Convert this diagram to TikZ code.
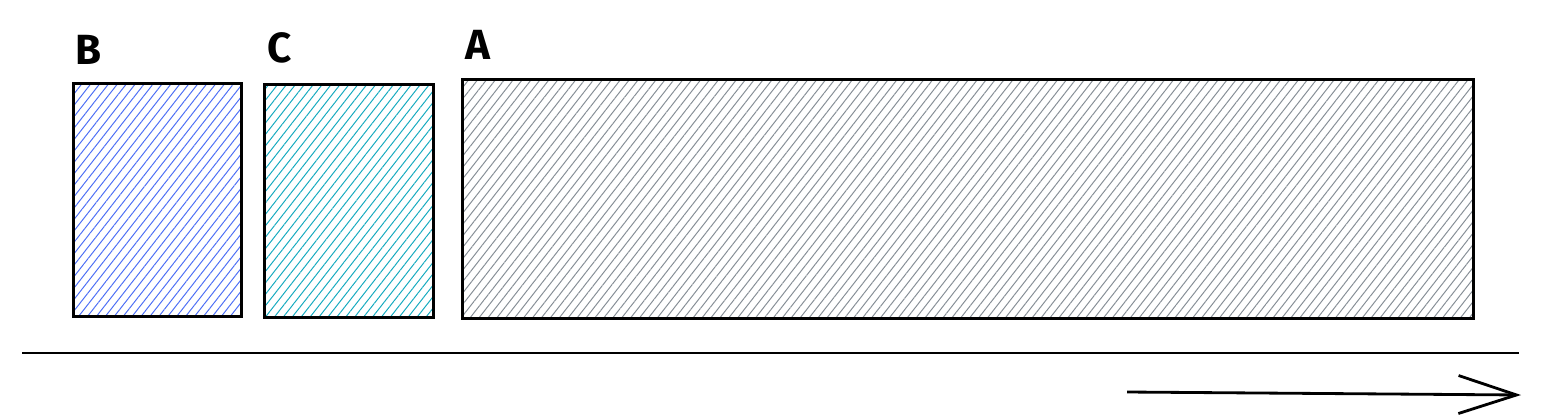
\documentclass[tikz,border=0pt]{standalone}
\usepackage{fontspec}
\setsansfont{Fira Sans}
\usetikzlibrary{arrows.meta,patterns.meta}

\definecolor{hatchblue}{HTML}{4C6EF5}
\definecolor{hatchcyan}{HTML}{15AABF}
\definecolor{hatchgray}{HTML}{868E96}

\begin{document}
\begin{tikzpicture}[
      x=0.025cm, y=-0.025cm,
      blockbox/.style={
          rectangle, draw=black, line width=2pt,
          inner sep=0pt, anchor=north west
      },
      hatch/.style={
          pattern={Lines[angle=52, distance=5pt, line width=0.7pt]},
          pattern color=#1
      },
      blocklabel/.style={
          font=\sffamily\bfseries\fontsize{30}{30}\selectfont,
          anchor=south west, inner sep=0pt
      }
  ]
    \useasboundingbox (0,0) rectangle (1541,417);

    % (B) first block
    \node[blockbox, hatch=hatchblue, minimum width=168*0.025cm, minimum height=233*0.025cm]
        (b) at (73,83) {};
    \node[blocklabel] (lb) at ([xshift=2*0.025cm, yshift=18*0.025cm]b.north west) {B};

    % (C) second block
    \node[blockbox, hatch=hatchcyan, minimum width=169*0.025cm, minimum height=233*0.025cm]
        (c) at (263,83) {};
    \node[blocklabel] (lc) at ([xshift=4*0.025cm, yshift=20*0.025cm]c.north west) {C};

    % (A) long block
    \node[blockbox, hatch=hatchgray, minimum width=1011*0.025cm, minimum height=239*0.025cm]
        (a) at (461,78) {};
    \node[blocklabel] (la) at ([xshift=4*0.025cm, yshift=18*0.025cm]a.north west) {A};

    % Baseline
    \coordinate (base-start) at (22,353);
    \coordinate (base-end) at (1519,353);
    \draw[line width=2pt] (base-start) -- (base-end);

    % Direction arrow
    \coordinate (dir-start) at (1127,392);
    \coordinate (dir-end) at (1521,395);
    \draw[line width=2pt, -{Straight Barb[length=58*0.025cm, width=38*0.025cm, line width=2pt]}]
        (dir-start) -- (dir-end);
  \end{tikzpicture}
\end{document}
